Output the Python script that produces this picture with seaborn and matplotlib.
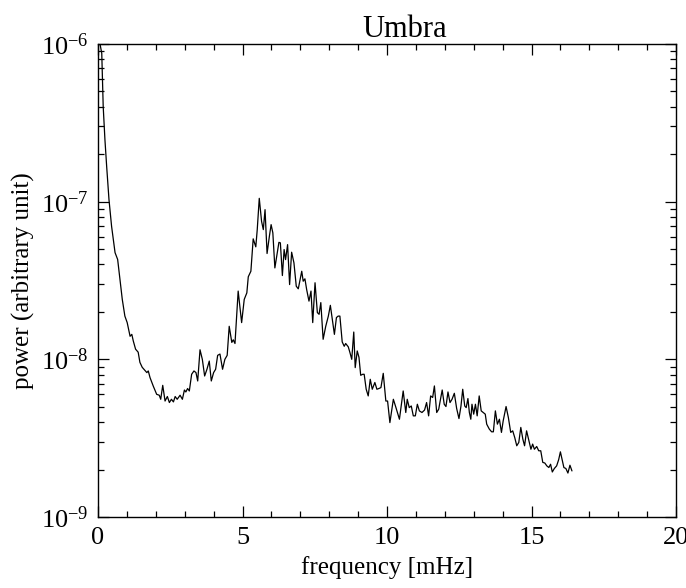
import numpy as np
import pandas as pd
import seaborn as sns
import matplotlib
matplotlib.use("Agg")
import matplotlib.pyplot as plt
from matplotlib.ticker import LogLocator, MultipleLocator, LogFormatterMathtext, NullFormatter

# frequency bins [mHz]
freq = [0.07, 0.13, 0.18, 0.24, 0.30, 0.38, 0.47, 0.59, 0.68, 0.76,
        0.84, 0.93, 1.01, 1.11, 1.17, 1.22, 1.30, 1.39, 1.45, 1.53,
        1.69, 1.74, 1.80, 1.91, 2.03, 2.12, 2.17, 2.24, 2.32, 2.40,
        2.47, 2.54, 2.61, 2.67, 2.74, 2.84, 2.92, 2.99, 3.04, 3.10,
        3.16, 3.24, 3.32, 3.39, 3.45, 3.53, 3.61, 3.69, 3.77, 3.85,
        3.92, 4.00, 4.07, 4.14, 4.22, 4.31, 4.39, 4.47, 4.54, 4.63,
        4.68, 4.74, 4.85, 4.97, 5.06, 5.15, 5.20, 5.29, 5.37, 5.46,
        5.51, 5.58, 5.66, 5.72, 5.78, 5.85, 5.93, 5.99, 6.05, 6.12,
        6.20, 6.26, 6.31, 6.38, 6.44, 6.49, 6.56, 6.63, 6.70, 6.78,
        6.86, 6.93, 7.05, 7.10, 7.16, 7.22, 7.30, 7.37, 7.43, 7.51,
        7.59, 7.65, 7.71, 7.79, 7.88, 7.97, 8.04, 8.11, 8.18, 8.25,
        8.31, 8.37, 8.45, 8.52, 8.57, 8.66, 8.72, 8.78, 8.85, 8.90,
        8.97, 9.03, 9.09, 9.16, 9.21, 9.28, 9.35, 9.42, 9.49, 9.58,
        9.65, 9.72, 9.79, 9.87, 9.96, 10.02, 10.10, 10.22, 10.31, 10.43,
        10.56, 10.65, 10.70, 10.77, 10.84, 10.91, 10.98, 11.05, 11.12, 11.21,
        11.30, 11.37, 11.44, 11.51, 11.58, 11.64, 11.72, 11.79, 11.83, 11.91,
        11.98, 12.04, 12.11, 12.18, 12.25, 12.33, 12.41, 12.49, 12.56, 12.62,
        12.69, 12.74, 12.80, 12.85, 12.90, 12.94, 13.00, 13.06, 13.12, 13.19,
        13.26, 13.33, 13.40, 13.45, 13.54, 13.62, 13.68, 13.75, 13.82, 13.89,
        13.96, 14.02, 14.12, 14.20, 14.28, 14.35, 14.42, 14.49, 14.56, 14.63,
        14.70, 14.76, 14.83, 14.91, 14.98, 15.04, 15.10, 15.18, 15.25, 15.32,
        15.39, 15.46, 15.53, 15.60, 15.66, 15.72, 15.79, 15.87, 15.94, 16.00,
        16.06, 16.12, 16.19, 16.26, 16.33, 16.40]

# power in units of 1e-9 (arbitrary unit)
power_e9 = [1000, 873, 401, 247, 167, 103, 69.8, 47.5, 43.0, 32.1,
            24.0, 18.8, 17.1, 14.0, 14.4, 13.1, 11.6, 11.1, 9.57, 8.90,
            8.24, 8.44, 7.66, 6.78, 6.00, 5.92, 5.58, 6.84, 5.44, 5.81,
            5.32, 5.58, 5.37, 5.81, 5.58, 5.92, 5.58, 6.39, 6.21, 6.53,
            6.30, 8.04, 8.44, 8.24, 7.29, 11.5, 10.0, 7.84, 8.65, 9.75,
            7.29, 8.24, 8.65, 10.6, 10.8, 8.65, 10.0, 10.6, 16.2, 12.8,
            13.3, 12.6, 27.1, 17.1, 24.0, 26.4, 33.4, 36.2, 58.1, 51.7,
            66.5, 105, 75.0, 66.5, 89.0, 46.9, 60.3, 71.5, 63.4, 38.0,
            47.3, 55.2, 54.8, 34.0, 49.7, 42.9, 53.4, 29.8, 47.8, 40.9,
            29.1, 28.0, 36.2, 31.3, 32.4, 27.7, 23.4, 27.1, 17.1, 30.6,
            19.8, 19.3, 22.9, 13.4, 16.2, 18.8, 22.0, 17.9, 14.4, 18.4,
            18.8, 18.8, 12.9, 12.1, 12.6, 12.0, 11.0, 10.0, 14.9, 8.86,
            11.3, 10.3, 7.92, 8.04, 8.04, 6.46, 5.86, 7.47, 6.46, 7.13,
            6.46, 6.53, 6.62, 8.15, 5.44, 5.44, 3.97, 5.58, 4.94, 4.17,
            6.30, 4.60, 5.58, 4.94, 5.06, 4.38, 4.38, 5.19, 4.71, 4.60,
            4.77, 5.32, 4.38, 5.86, 5.73, 6.78, 4.60, 4.83, 5.32, 6.39,
            5.19, 5.02, 6.21, 5.32, 5.58, 6.09, 4.88, 4.21, 5.06, 6.46,
            5.06, 4.94, 5.64, 4.60, 4.17, 5.19, 4.49, 5.19, 4.38, 5.86,
            4.71, 4.60, 4.49, 3.88, 3.61, 3.47, 3.47, 4.71, 3.88, 4.17,
            3.44, 4.07, 5.02, 4.27, 3.44, 3.52, 3.19, 2.83, 2.97, 3.70,
            3.12, 2.83, 3.52, 3.04, 2.69, 2.90, 2.69, 2.80, 2.63, 2.63,
            2.22, 2.20, 2.11, 2.06, 2.16, 1.93, 2.03, 2.11, 2.31, 2.59,
            2.31, 2.06, 2.03, 1.90, 2.13, 1.96]

df = pd.DataFrame({"freq": freq, "power": np.array(power_e9) * 1e-9})

sns.set_theme(style="ticks")
plt.rcParams["font.family"] = ["Liberation Serif", "DejaVu Serif"]
plt.rcParams["mathtext.fontset"] = "stix"

fig = plt.figure(figsize=(6.86, 5.88), dpi=100)
ax = fig.add_axes([98 / 686, 1 - 517 / 588, 578 / 686, 473 / 588])

sns.lineplot(data=df, x="freq", y="power", color="black", linewidth=0.9,
             estimator=None, sort=True, ax=ax)

ax.set_yscale("log")
ax.set_xlim(0, 20)
ax.set_ylim(1e-9, 1e-6)

ax.xaxis.set_major_locator(MultipleLocator(5))
ax.xaxis.set_minor_locator(MultipleLocator(1))
ax.yaxis.set_major_locator(LogLocator(base=10))
ax.yaxis.set_minor_locator(LogLocator(base=10, subs=np.arange(2, 10)))
ax.yaxis.set_major_formatter(LogFormatterMathtext())
ax.yaxis.set_minor_formatter(NullFormatter())

ax.tick_params(which="both", direction="in", top=True, right=True,
               color="black", width=0.9, labelsize=19, labelcolor="black")
ax.tick_params(which="major", length=8, pad=7)
ax.tick_params(which="minor", length=4)
for s in ax.spines.values():
    s.set_linewidth(1.0)
    s.set_color("black")

ax.set_title("Umbra", fontsize=22, pad=3, color="black", x=0.53)
ax.set_xlabel("frequency [mHz]", fontsize=18, labelpad=5, color="black")
ax.set_ylabel("power (arbitrary unit)", fontsize=18, labelpad=4, color="black")

fig.savefig("out.png", dpi=100)
